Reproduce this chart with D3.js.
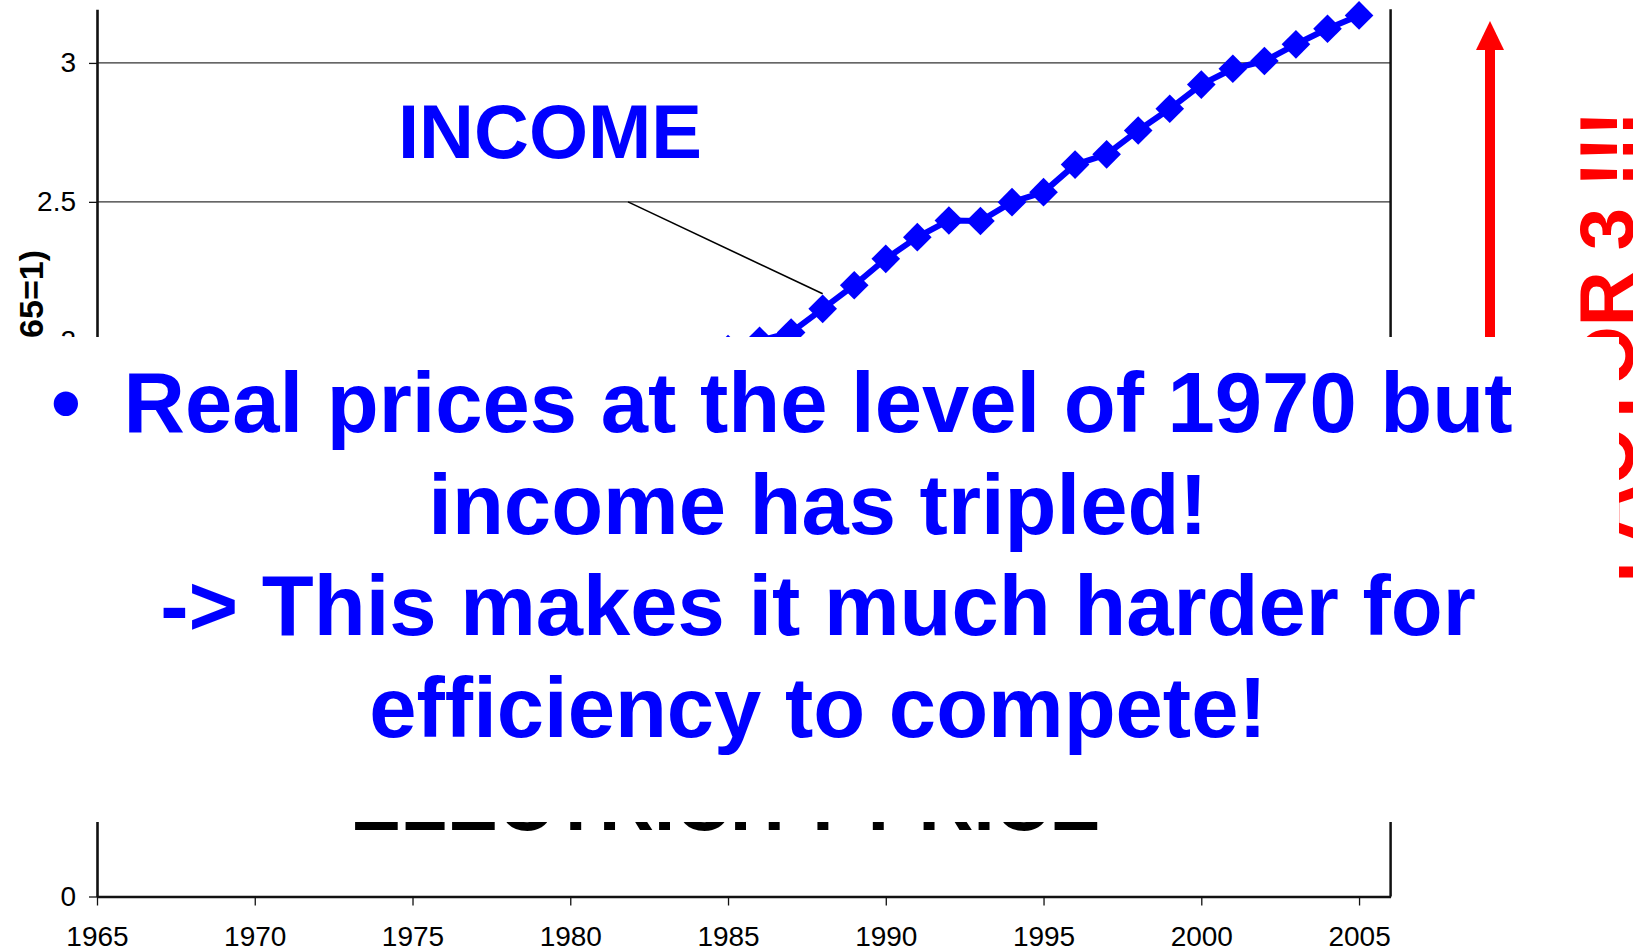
<!DOCTYPE html>
<html>
<head>
<meta charset="utf-8">
<script src="https://cdn.jsdelivr.net/npm/d3@7"></script>
<style>
  body { margin: 0; background: #fff; }
  svg { display: block; }
  text { font-family: "Liberation Sans", Arial, sans-serif; }
</style>
</head>
<body>
<div id="chart"></div>
<script>
// data (income is covered before 1985, price is covered entirely)
var years = [1965, 1966, 1967, 1968, 1969, 1970, 1971, 1972, 1973, 1974,
             1975, 1976, 1977, 1978, 1979, 1980, 1981, 1982, 1983, 1984,
             1985, 1986, 1987, 1988, 1989, 1990, 1991, 1992, 1993, 1994,
             1995, 1996, 1997, 1998, 1999, 2000, 2001, 2002, 2003, 2004, 2005];
var income = [1.00, 1.03, 1.05, 1.07, 1.08, 1.09, 1.12, 1.18, 1.25, 1.28,
              1.33, 1.40, 1.46, 1.52, 1.58, 1.62, 1.68, 1.74, 1.82, 1.93,
              1.97, 2.00, 2.03, 2.115, 2.20, 2.295, 2.373, 2.433, 2.431, 2.499,
              2.535, 2.634, 2.671, 2.757, 2.835, 2.922, 2.979, 3.007, 3.067, 3.123, 3.171];
var elecPrice = [1.00, 0.98, 0.96, 0.93, 0.90, 0.88, 0.87, 0.87, 0.88, 1.00,
                 1.08, 1.10, 1.14, 1.15, 1.13, 1.18, 1.24, 1.30, 1.28, 1.26,
                 1.25, 1.22, 1.16, 1.10, 1.06, 1.03, 1.00, 0.98, 0.97, 0.95,
                 0.93, 0.92, 0.90, 0.88, 0.86, 0.85, 0.86, 0.87, 0.88, 0.90, 0.92];
var xTicks = [1965, 1970, 1975, 1980, 1985, 1990, 1995, 2000, 2005];
var yTicks = [0, 0.5, 1, 1.5, 2, 2.5, 3];
var overlayLines = ["Real prices at the level of 1970 but",
                    "income has tripled!",
                    "-> This makes it much harder for",
                    "efficiency to compete!"];

var W = 1633, H = 951;
var svg = d3.select("#chart").append("svg")
    .attr("width", W)
    .attr("height", H);

var x = d3.scaleLinear().domain([1965, 2006]).range([97, 1390.6]);
var y = d3.scaleLinear().domain([0, 3.193]).range([896.5, 9.3]);

// gridlines
svg.append("g").selectAll("line")
    .data(yTicks.filter(function (d) { return d > 0; }))
    .enter().append("line")
    .attr("x1", x(1965)).attr("x2", x(2006))
    .attr("y1", function (d) { return y(d); })
    .attr("y2", function (d) { return y(d); })
    .attr("stroke", "#333")
    .attr("stroke-width", 1.3);

// right border of plot
svg.append("line")
    .attr("x1", x(2006)).attr("x2", x(2006))
    .attr("y1", y(3.193)).attr("y2", y(0))
    .attr("stroke", "#111").attr("stroke-width", 2.5);

// axes
var yAxis = svg.append("g")
    .attr("transform", "translate(" + x(1965) + ",0)")
    .call(d3.axisLeft(y).tickValues(yTicks).tickSize(8).tickSizeOuter(0).tickPadding(13)
        .tickFormat(function (d) { return String(d); }));
var xAxis = svg.append("g")
    .attr("transform", "translate(0," + y(0) + ")")
    .call(d3.axisBottom(x).tickValues(xTicks).tickSize(9).tickSizeOuter(0).tickPadding(21)
        .tickFormat(d3.format("d")));
[yAxis, xAxis].forEach(function (a) {
    a.select(".domain").attr("stroke", "#111").attr("stroke-width", 2.6);
    a.selectAll(".tick line").attr("stroke", "#111").attr("stroke-width", 1.3);
    a.selectAll(".tick text")
        .attr("fill", "#000")
        .style("font-size", "28px")
        .style("font-family", "'Liberation Sans', Arial, sans-serif");
});

// y axis title (mostly covered by the text box)
svg.append("text")
    .attr("transform", "translate(43,250) rotate(-90)")
    .attr("text-anchor", "end")
    .style("font-size", "34px")
    .style("font-weight", "bold")
    .text("Index (1965=1)");

// electricity price series
var line = d3.line()
    .x(function (d, i) { return x(years[i]); })
    .y(function (d) { return y(d); });

svg.append("path")
    .datum(elecPrice)
    .attr("d", line)
    .attr("fill", "none")
    .attr("stroke", "#000")
    .attr("stroke-width", 5);

// income series
svg.append("path")
    .datum(income)
    .attr("d", line)
    .attr("fill", "none")
    .attr("stroke", "#0000ff")
    .attr("stroke-width", 6)
    .attr("stroke-linejoin", "round");

var diamond = d3.symbol().type(d3.symbolSquare).size(410);
svg.append("g").selectAll("path")
    .data(income)
    .enter().append("path")
    .attr("d", diamond)
    .attr("transform", function (d, i) {
        return "translate(" + x(years[i]) + "," + y(d) + ") rotate(45)";
    })
    .attr("fill", "#0000ff");

// series labels
svg.append("line")
    .attr("x1", 628).attr("y1", y(2.5))
    .attr("x2", x(1988)).attr("y2", y(2.115) - 15)
    .attr("stroke", "#000").attr("stroke-width", 1.6);

svg.append("text")
    .attr("x", 550).attr("y", 157.5)
    .attr("text-anchor", "middle")
    .attr("fill", "#0000ff")
    .style("font-size", "76px")
    .style("font-weight", "bold")
    .text("INCOME");

svg.append("text")
    .attr("x", 725).attr("y", 830)
    .attr("text-anchor", "middle")
    .attr("fill", "#000")
    .style("font-size", "76px")
    .style("font-weight", "bold")
    .text("ELECTRICITY PRICE");

// red arrow and "factor 3" note
var arrowX = 1490;
svg.append("line")
    .attr("x1", arrowX).attr("x2", arrowX)
    .attr("y1", 48).attr("y2", 700)
    .attr("stroke", "#ff0000").attr("stroke-width", 10);
svg.append("path")
    .attr("d", "M" + arrowX + ",21 L" + (arrowX + 14) + ",50 L" + (arrowX - 14) + ",50 Z")
    .attr("fill", "#ff0000");

svg.append("text")
    .attr("transform", "translate(1633,111) rotate(-90)")
    .attr("text-anchor", "end")
    .attr("fill", "#ff0000")
    .style("font-size", "76px")
    .style("font-weight", "bold")
    .text("FACTOR 3 !!!");

// white text box laid over the chart
svg.append("rect")
    .attr("x", 0).attr("y", 337)
    .attr("width", 1619).attr("height", 485)
    .attr("fill", "#fff");

svg.append("text")
    .attr("x", 66).attr("y", 432)
    .attr("text-anchor", "middle")
    .attr("fill", "#0000ff")
    .style("font-size", "85px")
    .style("font-weight", "bold")
    .text("\u2022");

svg.append("g").selectAll("text")
    .data(overlayLines)
    .enter().append("text")
    .attr("x", 818)
    .attr("y", function (d, i) { return 432 + i * 101.7; })
    .attr("text-anchor", "middle")
    .attr("fill", "#0000ff")
    .style("font-size", "85px")
    .style("font-weight", "bold")
    .text(function (d) { return d; });
</script>
</body>
</html>
